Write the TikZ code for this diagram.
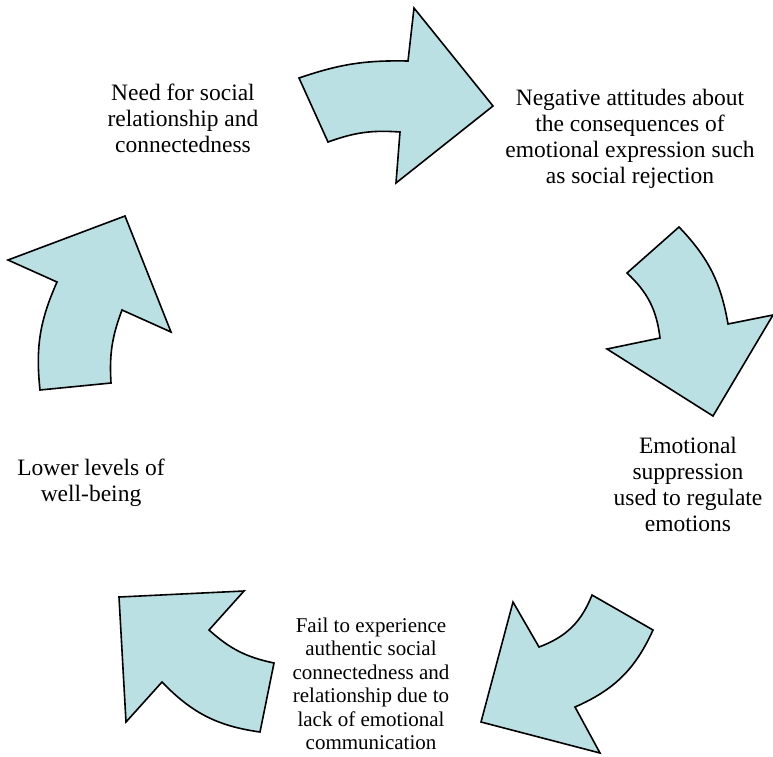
\documentclass[tikz,border=0pt]{standalone}
\usepackage{fontspec}
\setmainfont{LiberationSerif-Regular.ttf}
\usepackage{xcolor}
\definecolor{arrowfill}{RGB}{187,224,227}

\begin{document}
\begin{tikzpicture}[x=1pt,y=-1pt,
    cyclearrow/.style={draw=black,fill=arrowfill,line width=1.6pt,line join=miter},
    stagetext/.style={align=center,inner sep=0pt,font=\fontsize{23.5}{26}\selectfont},
    smalltext/.style={align=center,inner sep=0pt,font=\fontsize{21}{23.5}\selectfont}]
    \useasboundingbox (0,0) rectangle (773,756);
    % the five curved arrows of the cycle
    \draw [cyclearrow] (299,78) to[bend left=10] (408,61) -- (414,8) -- (493,106) -- (396,183) -- (400,132) to[bend right=12] (328,142) -- cycle;
    \draw [cyclearrow] (679,227) to[bend left=17] (728,324) -- (773,315) -- (713,416) -- (607,349) -- (660,338) to[bend right=20] (627,273) -- cycle;
    \draw [cyclearrow] (653,630) to[bend left=21] (575,707) -- (600,753) -- (481,722) -- (513,602) -- (539,647) to[bend right=24] (592,595) -- cycle;
    \draw [cyclearrow] (260,732) to[bend left=19] (162,682) -- (126,722) -- (119,597) -- (244,591) -- (209,630) to[bend right=15] (274,663) -- cycle;
    \draw [cyclearrow] (40,390) -- (111,383) to[bend left=12] (122,310) -- (171,332) -- (125,216) -- (8,260) -- (57,282) to[bend right=15] cycle;
    % stages
    \node (need) at (183,118) [stagetext] {Need for social\\relationship and\\connectedness};
    \node (attitudes) at (630,139) [stagetext] {Negative attitudes about\\the consequences of\\emotional expression such\\as social rejection};
    \node (suppression) at (688,484) [stagetext] {Emotional\\suppression\\used to regulate\\emotions};
    \node (fail) at (371,684) [smalltext] {Fail to experience\\authentic social\\connectedness and\\relationship due to\\lack of emotional\\communication};
    \node (wellbeing) at (91,483) [stagetext] {Lower levels of\\well-being};
\end{tikzpicture}
\end{document}
